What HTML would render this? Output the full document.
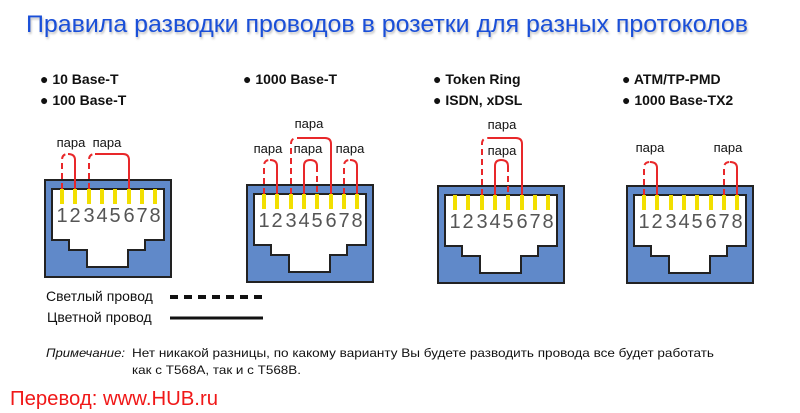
<!DOCTYPE html>
<html><head><meta charset="utf-8"><style>
html,body{margin:0;padding:0;background:#fff;}
svg{display:block;font-family:"Liberation Sans","DejaVu Sans",sans-serif;}
</style></head><body>
<svg width="800" height="413" viewBox="0 0 800 413" xmlns="http://www.w3.org/2000/svg">
<defs>
<g id="jack">
<rect x="0" y="0" width="126" height="97" fill="#6089c9" stroke="#222" stroke-width="2"/>
<path d="M7 9 H119 V60 H100 V70 H83 V87 H42 V70 H24 V60 H7 Z" fill="#fff" stroke="#222" stroke-width="2"/>
<g fill="#f2df00" stroke="none">
<rect x="15" y="9" width="4" height="15"/><rect x="28" y="9" width="4" height="15"/><rect x="42" y="9" width="4" height="15"/><rect x="55" y="9" width="4" height="15"/><rect x="68" y="9" width="4" height="15"/><rect x="82" y="9" width="4" height="15"/><rect x="95" y="9" width="4" height="15"/><rect x="108" y="9" width="4" height="15"/>
</g>
<g fill="#555" stroke="none" font-size="20" font-weight="normal" text-anchor="middle">
<text x="17" y="42">1</text><text x="30" y="42">2</text><text x="44" y="42">3</text><text x="57" y="42">4</text><text x="70" y="42">5</text><text x="84" y="42">6</text><text x="97" y="42">7</text><text x="110" y="42">8</text>
</g>
</g>
</defs>

<text x="26" y="32" font-size="24" fill="#1a4fd8" textLength="722" lengthAdjust="spacingAndGlyphs" style="filter:drop-shadow(1px 2px 1px rgba(0,0,0,0.25))">Правила разводки проводов в розетки для разных протоколов</text>

<g font-size="14" font-weight="bold" fill="#111">
<text x="40" y="84">● 10 Base-T</text>
<text x="40" y="105">● 100 Base-T</text>
<text x="243" y="84">● 1000 Base-T</text>
<text x="433" y="84">● Token Ring</text>
<text x="433" y="105">● ISDN, xDSL</text>
<text x="622" y="84">● ATM/TP-PMD</text>
<text x="622" y="105">● 1000 Base-TX2</text>
</g>

<use href="#jack" transform="translate(45,180)"/>
<use href="#jack" transform="translate(247,185)"/>
<use href="#jack" transform="translate(438,186)"/>
<use href="#jack" transform="translate(627,186)"/>

<g fill="none" stroke="#e8282a" stroke-width="2" font-size="13">
<g transform="translate(45,180)">
<path d="M17 9 V-20 Q17 -26 23 -26" stroke-dasharray="6,4"/>
<path d="M23 -26 Q30 -26 30 -20 V9"/>
<path d="M44 9 V-20 Q44 -26 50 -26" stroke-dasharray="6,4"/>
<path d="M50 -26 H78 Q84 -26 84 -20 V9"/>
<g fill="#111" stroke="none" text-anchor="middle"><text x="26" y="-33">пара</text><text x="62" y="-33">пара</text></g>
</g>
<g transform="translate(247,185)">
<path d="M17 9 V-19 Q17 -25 23 -25" stroke-dasharray="6,4"/>
<path d="M23 -25 Q30 -25 30 -19 V9"/>
<path d="M57 9 V-19 Q57 -25 63 -25 Q70 -25 70 -19"/>
<path d="M70 -19 V9" stroke-dasharray="6,4"/>
<path d="M97 9 V-19 Q97 -25 103 -25" stroke-dasharray="6,4"/>
<path d="M103 -25 Q110 -25 110 -19 V9"/>
<path d="M44 9 V-41 Q44 -47 50 -47" stroke-dasharray="6,4"/>
<path d="M50 -47 H78 Q84 -47 84 -41 V9"/>
<g fill="#111" stroke="none" text-anchor="middle"><text x="21" y="-32">пара</text><text x="61" y="-32">пара</text><text x="103" y="-32">пара</text><text x="62" y="-57">пара</text></g>
</g>
<g transform="translate(438,186)">
<path d="M44 9 V-42 Q44 -48 50 -48" stroke-dasharray="6,4"/>
<path d="M50 -48 H78 Q84 -48 84 -42 V9"/>
<path d="M57 9 V-20 Q57 -26 63 -26 Q70 -26 70 -20"/>
<path d="M70 -20 V9" stroke-dasharray="6,4"/>
<g fill="#111" stroke="none" text-anchor="middle"><text x="64" y="-57">пара</text><text x="64" y="-31">пара</text></g>
</g>
<g transform="translate(627,186)">
<path d="M17 9 V-18 Q17 -24 23 -24" stroke-dasharray="6,4"/>
<path d="M23 -24 Q30 -24 30 -18 V9"/>
<path d="M97 9 V-18 Q97 -24 103 -24" stroke-dasharray="6,4"/>
<path d="M103 -24 Q110 -24 110 -18 V9"/>
<g fill="#111" stroke="none" text-anchor="middle"><text x="23" y="-34">пара</text><text x="101" y="-34">пара</text></g>
</g>
</g>

<g font-size="14" fill="#111">
<text x="46" y="301">Светлый провод</text>
<text x="47" y="322">Цветной провод</text>
</g>
<line x1="170" y1="297" x2="263" y2="297" stroke="#111" stroke-width="4" stroke-dasharray="8,6"/>
<line x1="170" y1="318" x2="263" y2="318" stroke="#111" stroke-width="3"/>

<g font-size="12" fill="#111">
<text x="46" y="357" font-style="italic" textLength="79" lengthAdjust="spacingAndGlyphs">Примечание:</text>
<text x="132" y="357" textLength="582" lengthAdjust="spacingAndGlyphs">Нет никакой разницы, по какому варианту Вы будете разводить провода все будет работать</text>
<text x="132" y="374" textLength="169" lengthAdjust="spacingAndGlyphs">как с T568A, так и с T568B.</text>
</g>
<text x="10" y="405" font-size="20" fill="#f01818" textLength="208" lengthAdjust="spacingAndGlyphs">Перевод: www.HUB.ru</text>
</svg>
</body></html>
